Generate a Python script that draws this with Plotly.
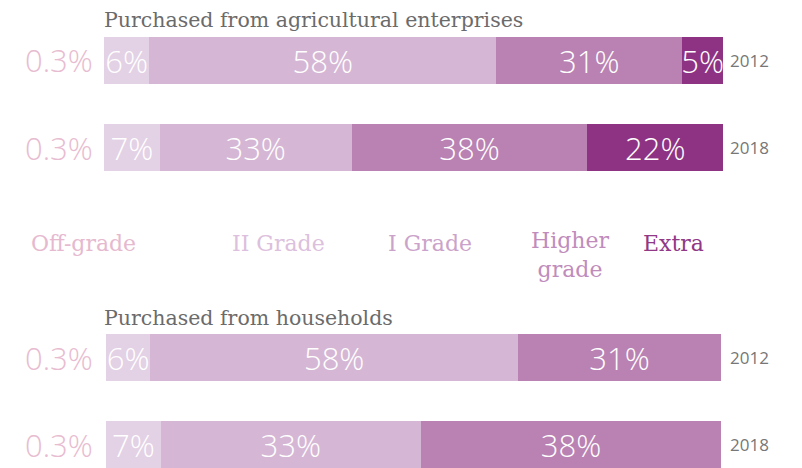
import plotly.graph_objects as go

# ---- data ----
years = ["2012", "2018"]
grades = ["Off-grade", "II Grade", "I Grade", "Higher<br>grade", "Extra"]
offgrade_labels = ["0.3%", "0.3%"]

# segment shares (II Grade, I Grade, Higher grade, Extra)
ent_2012 = [7.3, 56.1, 30.0, 6.6]
ent_2018 = [9.0, 31.0, 38.1, 21.9]
ent_text_2012 = ["6%", "58%", "31%", "5%"]
ent_text_2018 = ["7%", "33%", "38%", "22%"]

hh_2012 = [7.2, 59.8, 33.0]
hh_2018 = [8.9, 42.3, 48.8]
hh_text_2012 = ["6%", "58%", "31%"]
hh_text_2018 = ["7%", "33%", "38%"]

title_ent = "Purchased from agricultural enterprises"
title_hh = "Purchased from households"

# ---- styles ----
bar_colors = ["#e3d1e5", "#d5b7d5", "#b982b3", "#8e3384"]
legend_colors = ["#e6b9cf", "#dcc0dd", "#cba3ca", "#bf8cbc", "#913886"]
legend_x_px = [83, 278, 430, 570, 673]
NUM_FONT = "Open Sans"
SERIF = "DejaVu Serif"
W, H = 802, 468

fig = go.Figure()

ypos = [0, 1]
for i in range(4):
    fig.add_trace(go.Bar(
        orientation="h", y=ypos, x=[ent_2012[i], ent_2018[i]],
        text=[ent_text_2012[i], ent_text_2018[i]],
        marker=dict(color=bar_colors[i], line=dict(width=0)),
        width=0.54, textposition="inside", insidetextanchor="middle", textangle=0,
        constraintext="none", cliponaxis=False,
        textfont=dict(family=NUM_FONT, size=31, color="white", weight=300),
        xaxis="x", yaxis="y", showlegend=False, hoverinfo="skip"))
for i in range(3):
    fig.add_trace(go.Bar(
        orientation="h", y=ypos, x=[hh_2012[i], hh_2018[i]],
        text=[hh_text_2012[i], hh_text_2018[i]],
        marker=dict(color=bar_colors[i], line=dict(width=0)),
        width=0.54, textposition="inside", insidetextanchor="middle", textangle=0,
        constraintext="none", cliponaxis=False,
        textfont=dict(family=NUM_FONT, size=31, color="white", weight=300),
        xaxis="x2", yaxis="y2", showlegend=False, hoverinfo="skip"))

ann = []
for xa, ya, shift_l, shift_r in (("x", "y", -9, 5), ("x2", "y2", -11, 7)):
    for k, yr in enumerate(years):
        ann.append(dict(x=0, y=ypos[k], xref=xa, yref=ya, text=offgrade_labels[k],
                        xanchor="right", yanchor="middle", showarrow=False, xshift=shift_l,
                        font=dict(family=NUM_FONT, size=31, color="#e8bcd0", weight=300)))
        ann.append(dict(x=100, y=ypos[k], xref=xa, yref=ya, text=yr,
                        xanchor="left", yanchor="middle", showarrow=False, xshift=shift_r,
                        font=dict(family=NUM_FONT, size=17, color="#777777")))

ann.append(dict(x=102 / W, y=1 - 20 / H, xref="paper", yref="paper", text=title_ent,
                xanchor="left", yanchor="middle", showarrow=False,
                font=dict(family=SERIF, size=20.5, color="#6b6b6b")))
ann.append(dict(x=102 / W, y=1 - 318 / H, xref="paper", yref="paper", text=title_hh,
                xanchor="left", yanchor="middle", showarrow=False,
                font=dict(family=SERIF, size=20.5, color="#6b6b6b")))

for g, c, px in zip(grades, legend_colors, legend_x_px):
    two = "<br>" in g
    ann.append(dict(x=px / W, y=1 - (243 if not two else 255) / H, xref="paper", yref="paper",
                    text=g, xanchor="center", yanchor="middle", showarrow=False,
                    font=dict(family=SERIF, size=22, color=c)))

fig.update_layout(
    width=W, height=H, margin=dict(l=0, r=0, t=0, b=0),
    paper_bgcolor="white", plot_bgcolor="white",
    barmode="stack", showlegend=False,
    xaxis=dict(domain=[104 / W, 723 / W], range=[0, 100], visible=False, fixedrange=True),
    yaxis=dict(domain=[1 - 191 / H, 1 - 17 / H], range=[1.5, -0.5], visible=False),
    xaxis2=dict(domain=[106 / W, 721 / W], range=[0, 100], visible=False, anchor="y2"),
    yaxis2=dict(domain=[0, 1 - 314 / H], range=[1.27, -0.5], visible=False, anchor="x2"),
    annotations=ann,
)

fig.write_html("out.html", config={"displayModeBar": False},
               post_script="document.body.style.margin='0';document.body.style.overflow='hidden';")
